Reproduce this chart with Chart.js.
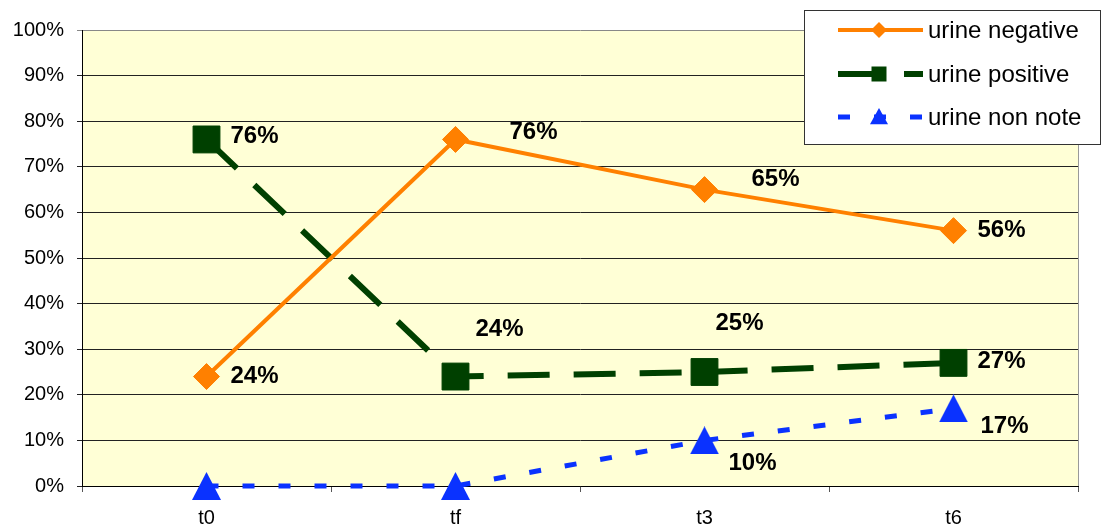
<!DOCTYPE html>
<html lang="en">
<head>
<meta charset="UTF-8">
<title>urine</title>
<script src="https://cdn.jsdelivr.net/npm/chart.js"></script>
<style>
  html, body { margin: 0; padding: 0; background: #fff; }
  #wrap { width: 1102px; height: 527px; }
</style>
</head>
<body>
<div id="wrap"><canvas id="chart"></canvas></div>
<script>
const categories = ['t0', 'tf', 't3', 't6'];
const urineNegative = [24, 76, 65, 56];
const urinePositive = [76, 24, 25, 27];
const urineNonNote = [0, 0, 10, 17];
const yTickValues = [0, 10, 20, 30, 40, 50, 60, 70, 80, 90, 100];
const seriesNames = ['urine negative', 'urine positive', 'urine non note'];

const FONT = '"Liberation Sans", Arial, sans-serif';

// label offsets from the point (dx, dy), null = no label
const labelOffsets = [
  [[24, 0], [54, -7], [47, -10], [24, 0]],
  [[24, -3], [20, -47], [11, -49], [24, -2]],
  [null, null, [24, 23], [27, 18]]
];

function shape(ctx, style, x, y, s) {
  ctx.beginPath();
  if (style === 'diamond') {
    ctx.moveTo(x, y - s); ctx.lineTo(x + s, y); ctx.lineTo(x, y + s); ctx.lineTo(x - s, y);
  } else if (style === 'square') {
    ctx.rect(x - s, y - s, 2 * s, 2 * s);
  } else {
    ctx.moveTo(x, y - s); ctx.lineTo(x + s, y + s * 0.8); ctx.lineTo(x - s, y + s * 0.8);
  }
  ctx.closePath();
  ctx.fill();
}

// centred triangle marker, like the original
const triCanvas = document.createElement('canvas');
triCanvas.width = 29;
triCanvas.height = 28;
(function () {
  const c = triCanvas.getContext('2d');
  c.fillStyle = '#0A32FF';
  c.beginPath();
  c.moveTo(14.5, 0);
  c.lineTo(29, 28);
  c.lineTo(0, 28);
  c.closePath();
  c.fill();
})();

const plotBg = {
  id: 'plotBg',
  beforeDraw(chart) {
    const {ctx, chartArea: a} = chart;
    ctx.save();
    ctx.fillStyle = '#FFFFD6';
    ctx.fillRect(a.left, a.top, a.right - a.left, a.bottom - a.top);
    ctx.strokeStyle = '#999';
    ctx.lineWidth = 1;
    ctx.beginPath();
    ctx.moveTo(a.right + 0.5, a.top);
    ctx.lineTo(a.right + 0.5, a.bottom);
    ctx.stroke();
    ctx.restore();
  }
};

const pointLabels = {
  id: 'pointLabels',
  afterDatasetsDraw(chart) {
    const ctx = chart.ctx;
    ctx.save();
    ctx.font = 'bold 24px ' + FONT;
    ctx.fillStyle = '#000';
    ctx.textAlign = 'left';
    ctx.textBaseline = 'middle';
    chart.data.datasets.forEach((ds, i) => {
      const meta = chart.getDatasetMeta(i);
      meta.data.forEach((pt, j) => {
        const off = labelOffsets[i][j];
        if (!off) return;
        ctx.fillText(ds.data[j] + '%', pt.x + off[0], pt.y + off[1]);
      });
    });
    ctx.restore();
  }
};

const boxLegend = {
  id: 'boxLegend',
  afterDraw(chart) {
    const ctx = chart.ctx;
    ctx.save();
    ctx.fillStyle = '#fff';
    ctx.fillRect(804.5, 10.5, 296, 134);
    ctx.strokeStyle = '#333';
    ctx.lineWidth = 1;
    ctx.strokeRect(804.5, 10.5, 296, 134);
    const rows = [30, 74, 117];
    const markers = ['diamond', 'square', 'triangle'];
    const sizes = [8, 7.5, 9];
    chart.data.datasets.forEach((ds, i) => {
      const y = rows[i];
      ctx.strokeStyle = ds.borderColor;
      ctx.lineWidth = ds.borderWidth;
      ctx.setLineDash(ds.borderDash || []);
      ctx.beginPath();
      ctx.moveTo(838, y);
      ctx.lineTo(923, y);
      ctx.stroke();
      ctx.setLineDash([]);
      ctx.fillStyle = ds.pointBackgroundColor;
      shape(ctx, markers[i], 879, y, sizes[i]);
      ctx.fillStyle = '#000';
      ctx.font = '24px ' + FONT;
      ctx.textBaseline = 'middle';
      ctx.fillText(ds.label, 928, y + 1);
    });
    ctx.restore();
  }
};

new Chart(document.getElementById('chart'), {
  type: 'line',
  data: {
    labels: categories,
    datasets: [
      {
        label: seriesNames[0],
        data: urineNegative,
        borderColor: '#FF8000',
        borderWidth: 4,
        pointStyle: 'rectRot',
        pointRadius: 13,
        pointBackgroundColor: '#FF8000',
        pointBorderColor: '#FF8000',
        pointBorderWidth: 1,
        tension: 0,
        clip: false
      },
      {
        label: seriesNames[1],
        data: urinePositive,
        borderColor: '#004000',
        borderWidth: 6,
        borderDash: [42, 24],
        pointStyle: 'rect',
        pointRadius: 19,
        pointBackgroundColor: '#004000',
        pointBorderColor: '#004000',
        pointBorderWidth: 1,
        tension: 0,
        clip: false
      },
      {
        label: seriesNames[2],
        data: urineNonNote,
        borderColor: '#0A32FF',
        borderWidth: 5,
        borderDash: [12, 24],
        pointStyle: triCanvas,
        pointRadius: 15,
        pointBackgroundColor: '#0A32FF',
        pointBorderColor: '#0A32FF',
        pointBorderWidth: 1,
        tension: 0,
        clip: false
      }
    ]
  },
  options: {
    responsive: true,
    maintainAspectRatio: false,
    animation: false,
    layout: { padding: { left: 0, top: 30, right: 24, bottom: 0 } },
    plugins: {
      legend: { display: false },
      tooltip: { enabled: false }
    },
    scales: {
      x: {
        offset: true,
        afterFit(scale) { scale.height = 41; },
        grid: { drawOnChartArea: false, tickLength: 6, color: '#555', offset: true },
        border: { color: '#000', width: 1 },
        ticks: { color: '#000', font: { family: FONT, size: 20 }, padding: 14 }
      },
      y: {
        min: 0,
        max: 100,
        afterFit(scale) { scale.width = 82; },
        afterBuildTicks(scale) { scale.ticks = yTickValues.map(v => ({ value: v })); },
        grid: {
          color: ctx => (ctx.tick && ctx.tick.value === 100 ? '#888' : '#222'),
          tickLength: 5
        },
        border: { color: '#000', width: 1 },
        ticks: {
          color: '#000',
          font: { family: FONT, size: 20 },
          padding: 13,
          callback: v => v + '%'
        }
      }
    }
  },
  plugins: [plotBg, pointLabels, boxLegend]
});
</script>
</body>
</html>
